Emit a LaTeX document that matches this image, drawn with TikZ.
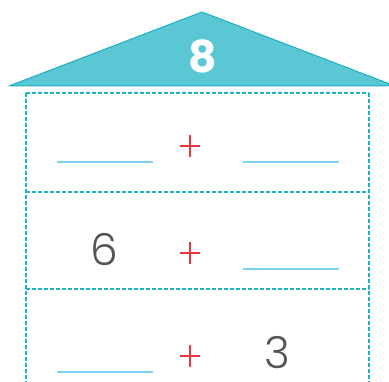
\documentclass[tikz,border=0pt]{standalone}
\usepackage{fontspec}
\newfontfamily\digitfont{Poppins Light}
\newfontfamily\boldfont{Poppins}
\definecolor{roof}{HTML}{5BC7D4}
\definecolor{roofline}{HTML}{1AAFC0}
\definecolor{dashc}{HTML}{18B4C6}
\definecolor{blank}{HTML}{7ED4F2}
\definecolor{plusred}{HTML}{E8373F}
\definecolor{numgray}{HTML}{555555}
\tikzset{
  dashline/.style={draw=dashc, line width=1.2pt, dash pattern=on 4pt off 2pt},
  blankline/.style={draw=blank, line width=2.2pt},
  plusmark/.style={draw=plusred, line width=2pt},
  numtext/.style={text=numgray, font=\digitfont\fontsize{44}{44}\selectfont, inner sep=0pt},
}
\begin{document}
\begin{tikzpicture}[x=1pt,y=-1pt]
\useasboundingbox (0,0) rectangle (389,382);
% roof
\draw[fill=roof, draw=roofline, line width=1pt, line join=round] (9,86) -- (202,12) -- (389,83.7) -- (389,86) -- cycle;
\node[text=white, font=\boldfont\bfseries\fontsize{44}{44}\selectfont, inner sep=0pt] (top) at (202.5,56.5) {8};
% dashed frame
\draw[dashline] (26,93) -- (369,93);
\draw[dashline] (26,93) -- (26,382);
\draw[dashline] (369,93) -- (369,382);
\draw[dashline] (26,192) -- (369,192);
\draw[dashline] (26,289) -- (369,289);
% row 1
\coordinate (b1a) at (56.7,162); \coordinate (b1b) at (152.7,162);
\coordinate (b2a) at (243,162); \coordinate (b2b) at (339,162);
\draw[blankline] (b1a) -- (b1b);
\draw[blankline] (b2a) -- (b2b);
\coordinate (p1) at (190,145.7);
\draw[plusmark] ([xshift=-10pt]p1) -- ([xshift=10pt]p1);
\draw[plusmark] ([yshift=-11pt]p1) -- ([yshift=11pt]p1);
% row 2
\node[numtext] (six) at (104.5,249) {6};
\coordinate (p2) at (190,252.7);
\draw[plusmark] ([xshift=-10pt]p2) -- ([xshift=10pt]p2);
\draw[plusmark] ([yshift=-11pt]p2) -- ([yshift=11pt]p2);
\coordinate (b3a) at (243,269); \coordinate (b3b) at (339,269);
\draw[blankline] (b3a) -- (b3b);
% row 3
\coordinate (b4a) at (56.7,372); \coordinate (b4b) at (153,372);
\draw[blankline] (b4a) -- (b4b);
\coordinate (p3) at (190,355.7);
\draw[plusmark] ([xshift=-10pt]p3) -- ([xshift=10pt]p3);
\draw[plusmark] ([yshift=-11pt]p3) -- ([yshift=11pt]p3);
\node[numtext] (three) at (277.7,352.5) {3};
\end{tikzpicture}
\end{document}
